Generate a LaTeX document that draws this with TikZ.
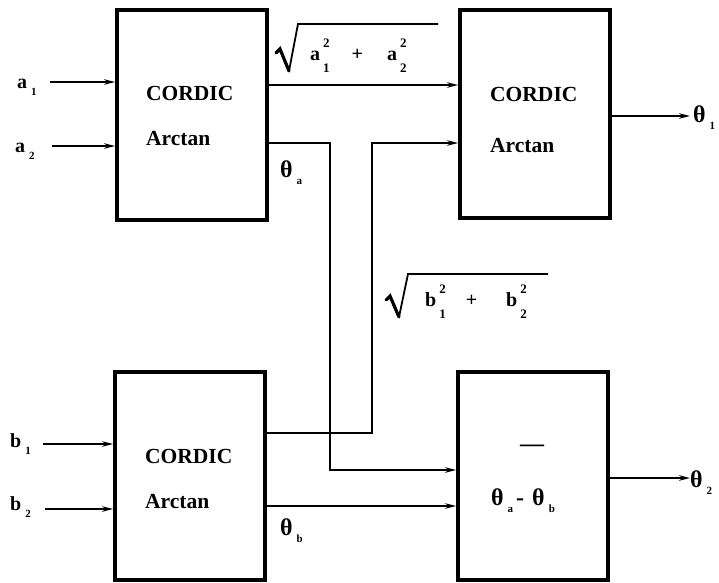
\documentclass[tikz,border=0pt]{standalone}
\usepackage{fontspec}
\setmainfont{Liberation Serif}
\usetikzlibrary{arrows.meta}
\newcommand\lsub[2]{#1\kern4pt\raisebox{-7pt}{\fontsize{11}{12}\selectfont #2}}
\newcommand\supsub[3]{#1\kern3pt\rlap{\raisebox{13pt}{\fontsize{13}{14}\selectfont #2}}\raisebox{-12pt}{\fontsize{13}{14}\selectfont #3}}
\begin{document}
\begin{tikzpicture}[x=1pt,y=-1pt,
  box/.style={draw, line width=3.8pt, minimum width=150pt, inner sep=0pt},
  arr/.style={line width=2pt, -{Stealth[length=11pt,width=5.5pt]}},
  lbl/.style={font=\bfseries\fontsize{20}{24}\selectfont, inner sep=0pt, anchor=base west},
  th/.style={font=\bfseries\fontsize{24}{26}\selectfont, inner sep=0pt, anchor=base west},
  btxt/.style={font=\bfseries\fontsize{21.5}{24}\selectfont, inner sep=0pt, anchor=base west},
  radthin/.style={line width=1.8pt, line join=miter},
  radthick/.style={line width=3.2pt, line cap=round},
]
\useasboundingbox (0,0) rectangle (719,582);

% boxes
\node[box, minimum height=210pt] (A) at (192,115) {};
\node[box, minimum height=208pt] (B) at (535,114) {};
\node[box, minimum height=208pt] (C) at (190,476) {};
\node[box, minimum height=208pt] (D) at (533,476) {};

% box texts
\node[btxt] (At1) at (146,100) {CORDIC};
\node[btxt] (At2) at (146,145) {Arctan};
\node[btxt] (Bt1) at (490,101) {CORDIC};
\node[btxt] (Bt2) at (490,152) {Arctan};
\node[btxt] (Ct1) at (145,463) {CORDIC};
\node[btxt] (Ct2) at (145,508) {Arctan};
\node[btxt, font=\bfseries\fontsize{24}{24}\selectfont, anchor=center] (Dt1) at (532,448) {—};
\node[th] (Dt2) at (491,505) {\lsub{θ}{a}\kern3pt-\kern8pt\lsub{θ}{b}};

% input labels
\node[lbl] (a1) at (17,88) {\lsub{a}{1}};
\node[lbl] (a2) at (15,152) {\lsub{a}{2}};
\node[lbl] (b1) at (10,447) {\lsub{b}{1}};
\node[lbl] (b2) at (10,510) {\lsub{b}{2}};

% input arrows
\coordinate (a1s) at (50,82);
\coordinate (a2s) at (52,146);
\coordinate (b1s) at (43,444);
\coordinate (b2s) at (45,509);
\draw[arr] (a1s) -- (a1s -| A.west);
\draw[arr] (a2s) -- (a2s -| A.west);
\draw[arr] (b1s) -- (b1s -| C.west);
\draw[arr] (b2s) -- (b2s -| C.west);

% internal connectors
\coordinate (ta1) at (330,143);
\coordinate (ta2) at (330,470);
\coordinate (sb1) at (372,433);
\coordinate (sb2) at (372,143);
\draw[arr] (A.east |- 0,85) -- (B.west |- 0,85);
\draw[arr] (A.east |- ta1) -- (ta1) -- (ta2) -- (D.west |- ta2);
\draw[arr] (C.east |- sb1) -- (sb1) -- (sb2) -- (B.west |- sb2);
\draw[arr] (C.east |- 0,506) -- (D.west |- 0,506);

% outputs
\coordinate (o1) at (690,116);
\coordinate (o2) at (690,478);
\draw[arr] (B.east |- o1) -- (o1);
\draw[arr] (D.east |- o2) -- (o2);
\node[th] (t1) at (693,122) {\lsub{θ}{1}};
\node[th] (t2) at (690,487) {\lsub{θ}{2}};

% signal labels
\node[th] (ta) at (280,177) {\lsub{θ}{a}};
\node[th] (tb) at (280,535) {\lsub{θ}{b}};

% sqrt(a1^2 + a2^2)
\node[lbl] (sa) at (310,60) {\supsub{a}{2}{1}\kern22pt+\kern24pt\supsub{a}{2}{2}};
\draw[radthick] (276,53) -- (280,49) -- (289,71);
\draw[radthin] (289,71) -- (298,24) -- (438,24);

% sqrt(b1^2 + b2^2)
\node[lbl] (sb) at (425,306) {\supsub{b}{2}{1}\kern20pt+\kern29pt\supsub{b}{2}{2}};
\draw[radthick] (386,300) -- (390,296) -- (399,317);
\draw[radthin] (399,317) -- (408,274) -- (548,274);
\end{tikzpicture}
\end{document}
